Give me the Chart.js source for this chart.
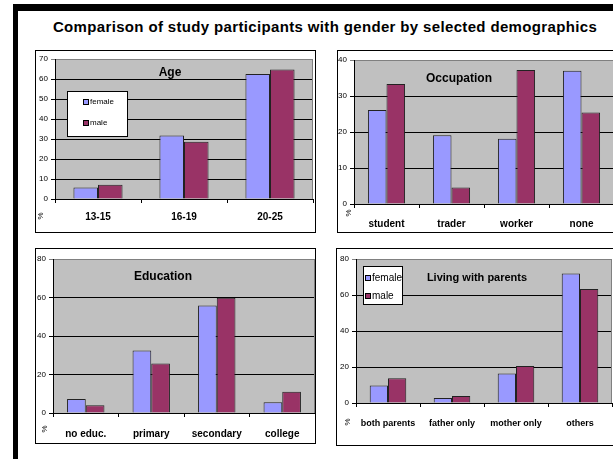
<!DOCTYPE html>
<html>
<head>
<meta charset="utf-8">
<script src="https://cdn.jsdelivr.net/npm/chart.js@4.4.1/dist/chart.umd.min.js"></script>
<style>
  body { margin: 0; width: 613px; height: 459px; position: relative; overflow: hidden; background: #fff; font-family: Arial, "Liberation Sans", sans-serif; }
  .barTop { position: absolute; left: 13px; top: 4px; width: 600px; height: 7px; background: #000; }
  .barLeft { position: absolute; left: 13px; top: 4px; width: 5px; height: 455px; background: #000; }
  h1 { position: absolute; left: 18px; width: 614px; top: 18px; margin: 0; text-align: center; font-size: 15px; letter-spacing: 0.35px; font-weight: bold; }
  .panel { position: absolute; border: 1px solid #000; box-sizing: border-box; background: #fff; }
  .panel canvas { display: block; }
</style>
</head>
<body>
<div class="barTop"></div>
<div class="barLeft"></div>
<h1>Comparison of study participants with gender by selected demographics</h1>

<div class="panel" style="left:35px;top:50px;width:281px;height:183px"><canvas id="ageChart" width="279" height="181"></canvas></div>
<div class="panel" style="left:337px;top:50px;width:280px;height:183px"><canvas id="occChart" width="278" height="181"></canvas></div>
<div class="panel" style="left:35px;top:248px;width:281px;height:196px"><canvas id="eduChart" width="279" height="194"></canvas></div>
<div class="panel" style="left:336px;top:248px;width:280px;height:198px"><canvas id="livChart" width="278" height="196"></canvas></div>

<script>
// data (%)
const genders = ["female", "male"];

const ageCats = ["13-15", "16-19", "20-25"];
const ageFemale = [5.8, 31.8, 62.5];
const ageMale = [7.1, 28.6, 64.8];

const occCats = ["student", "trader", "worker", "none"];
const occFemale = [26.1, 19.1, 18.1, 37.0];
const occMale = [33.3, 4.6, 37.2, 25.4];

const eduCats = ["no educ.", "primary", "secondary", "college"];
const eduFemale = [7.3, 32.5, 55.9, 5.6];
const eduMale = [4.0, 25.7, 59.9, 11.0];

const livCats = ["both parents", "father only", "mother only", "others"];
const livFemale = [9.7, 2.8, 16.4, 72.0];
const livMale = [13.8, 3.9, 20.5, 63.4];

const ageTicks = { max: 70, step: 10 };
const occTicks = { max: 40, step: 10 };
const eduTicks = { max: 80, step: 20 };
const livTicks = { max: 80, step: 20 };

const colors = ["#9999FF", "#993366"];
const FONT = "Arial, 'Liberation Sans', sans-serif";

// grey plot area, inner title, "%" label and the boxed legend
const excelLook = {
  id: "excelLook",
  beforeDraw(chart) {
    const a = chart.chartArea, ctx = chart.ctx;
    ctx.save();
    ctx.fillStyle = "#C0C0C0";
    ctx.fillRect(a.left, a.top, a.right - a.left, a.bottom - a.top);
    ctx.restore();
  },
  afterDraw(chart, args, o) {
    const ctx = chart.ctx, a = chart.chartArea;
    ctx.save();
    ctx.strokeStyle = "#808080";
    ctx.lineWidth = 1;
    ctx.beginPath();
    ctx.moveTo(a.right - 0.5, a.top);
    ctx.lineTo(a.right - 0.5, a.bottom);
    ctx.stroke();

    ctx.fillStyle = "#000";
    ctx.textAlign = "center";
    ctx.textBaseline = "middle";
    ctx.font = "bold " + o.titleSize + "px " + FONT;
    ctx.fillText(o.title, o.titleX, o.titleY);

    ctx.save();
    ctx.translate(o.pctX, o.pctY);
    ctx.rotate(-Math.PI / 2);
    ctx.font = "8px " + FONT;
    ctx.fillText("%", 0, 0);
    ctx.restore();

    if (o.legend) {
      const L = o.legend;
      ctx.fillStyle = "#fff";
      ctx.fillRect(L.x, L.y, L.w, L.h);
      ctx.strokeStyle = "#000";
      ctx.strokeRect(L.x + 0.5, L.y + 0.5, L.w, L.h);
      ctx.font = L.size + "px " + FONT;
      ctx.textAlign = "left";
      chart.data.datasets.forEach((ds, i) => {
        const cy = L.rows[i];
        ctx.fillStyle = ds.backgroundColor;
        ctx.fillRect(L.sx, cy - 3, 5, 5);
        ctx.strokeRect(L.sx + 0.5, cy - 2.5, 5, 5);
        ctx.fillStyle = "#000";
        ctx.fillText(ds.label, L.sx + 7, cy);
      });
    }
    ctx.restore();
  }
};

function makeChart(id, cats, female, male, ticks, cfg) {
  new Chart(document.getElementById(id), {
    type: "bar",
    data: {
      labels: cats,
      datasets: [
        { label: genders[0], data: female, backgroundColor: colors[0] },
        { label: genders[1], data: male, backgroundColor: colors[1] }
      ]
    },
    options: {
      responsive: false,
      animation: false,
      events: [],
      layout: { padding: { top: cfg.top, right: cfg.right, left: 0, bottom: 0 } },
      datasets: {
        bar: { categoryPercentage: 0.571, barPercentage: 1, borderWidth: 1, borderColor: "#222" }
      },
      scales: {
        x: {
          grid: { offset: true, drawOnChartArea: false, color: "#000", tickLength: 4 },
          border: { color: "#000" },
          ticks: { color: "#000", font: { family: FONT, size: cfg.xSize, weight: "bold" }, padding: cfg.xPad, maxRotation: 0, autoSkip: false },
          afterFit(s) { s.height = cfg.bottom; }
        },
        y: {
          min: 0,
          max: ticks.max,
          ticks: { stepSize: ticks.step, color: "#000", font: { family: FONT, size: 8 }, padding: 3 },
          grid: { color: c => (c.tick && c.tick.value === ticks.max ? "#808080" : "#000"), tickLength: 4 },
          border: { color: "#000" },
          afterFit(s) { s.width = cfg.left; }
        }
      },
      plugins: {
        legend: { display: false },
        tooltip: { enabled: false },
        excelLook: cfg.look
      }
    },
    plugins: [excelLook]
  });
}

makeChart("ageChart", ageCats, ageFemale, ageMale, ageTicks, {
  top: 8, right: 2, left: 19, bottom: 33, xSize: 10, xPad: 8,
  look: { title: "Age", titleSize: 12, titleX: 134, titleY: 22, pctX: 5, pctY: 165,
          legend: { x: 31, y: 40, w: 60, h: 45, sx: 47, rows: [51, 72], size: 8 } }
});

makeChart("occChart", occCats, occFemale, occMale, occTicks, {
  top: 9, right: 2, left: 16, bottom: 28, xSize: 10, xPad: 10,
  look: { title: "Occupation", titleSize: 12, titleX: 121, titleY: 28, pctX: 11, pctY: 162 }
});

makeChart("eduChart", eduCats, eduFemale, eduMale, eduTicks, {
  top: 10, right: 0, left: 17, bottom: 30, xSize: 10, xPad: 11,
  look: { title: "Education", titleSize: 12, titleX: 127, titleY: 28, pctX: 9, pctY: 180 }
});

makeChart("livChart", livCats, livFemale, livMale, livTicks, {
  top: 10, right: 3, left: 19, bottom: 42, xSize: 9, xPad: 11,
  look: { title: "Living with parents", titleSize: 11, titleX: 140, titleY: 29, pctX: 11, pctY: 173,
          legend: { x: 26, y: 17, w: 39, h: 38, sx: 28, rows: [29, 47], size: 10 } }
});
</script>
</body>
</html>
